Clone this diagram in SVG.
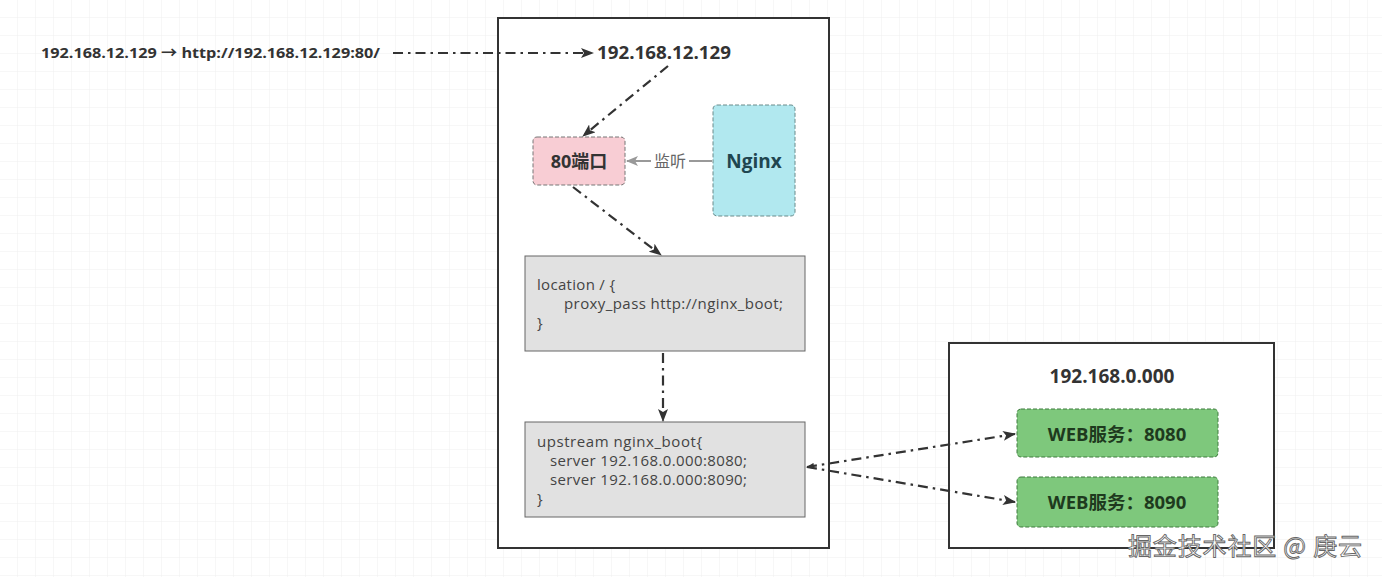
<svg xmlns="http://www.w3.org/2000/svg" width="1382" height="577" viewBox="0 0 1382 577">
<defs>
<pattern id="grid" width="18" height="18" patternUnits="userSpaceOnUse">
<path d="M18 0V18M0 18H18" fill="none" stroke="#efefef" stroke-width="1"/>
</pattern>
<marker id="arr" markerWidth="13" markerHeight="10" refX="12" refY="5" orient="auto" markerUnits="userSpaceOnUse">
<path d="M0,0 L13,5 L0,10 L3,5 Z" fill="#333"/>
</marker>
<marker id="arrg" markerWidth="12" markerHeight="10" refX="11" refY="5" orient="auto" markerUnits="userSpaceOnUse">
<path d="M0,0 L12,5 L0,10 L3,5 Z" fill="#999"/>
</marker>
<marker id="arrs" markerWidth="8" markerHeight="6" refX="1" refY="3" orient="auto" markerUnits="userSpaceOnUse">
<path d="M8,0 L0,3 L8,6 Z" fill="#333"/>
</marker>
</defs>
<style>
.frame{fill:#fff;stroke:#333;stroke-width:2}
.dd{fill:none;stroke:#333;stroke-width:2.2;stroke-dasharray:10 5 2.5 5}
.code{fill:#e1e1e1;stroke:#666;stroke-width:1}
.ct{font-family:"Open Sans","Liberation Sans",sans-serif;font-size:15px;fill:#444}
.b{font-family:"Open Sans","Noto Sans CJK SC",sans-serif;font-weight:bold;fill:#333}
.dash{stroke-dasharray:4 2;stroke-width:1}
</style>
<rect width="1382" height="577" fill="#fff"/>
<rect width="1382" height="577" fill="url(#grid)"/>

<g id="main-box"><rect class="frame" x="498" y="18" width="331" height="530"/></g>
<g id="server-box"><rect class="frame" x="949" y="343" width="325" height="205"/></g>

<g id="client"><text class="b" x="41" y="58" font-size="15" textLength="339" lengthAdjust="spacingAndGlyphs">192.168.12.129 → http://192.168.12.129:80/</text></g>
<g id="host"><text class="b" x="597" y="59" font-size="18" textLength="134" lengthAdjust="spacingAndGlyphs">192.168.12.129</text></g>

<g id="port80"><rect x="533" y="137" width="92" height="48" rx="4" fill="#f8cdd4" stroke="#777" class="dash"/><text class="b" x="579" y="168" font-size="18" text-anchor="middle" fill="#4a2a2e">80端口</text></g>
<g id="nginx"><rect x="713" y="105" width="82" height="111" rx="4" fill="#b1e8ef" stroke="#6a8a8a" class="dash"/><text class="b" x="754" y="168" font-size="19" text-anchor="middle" style="fill:#1f4650">Nginx</text></g>

<g id="location"><rect class="code" x="525" y="256" width="280" height="95"/>
<text class="ct" x="537" y="290" textLength="78">location / {</text>
<text class="ct" x="564" y="309" textLength="219">proxy_pass http://nginx_boot;</text>
<text class="ct" x="537" y="328">}</text></g>

<g id="upstream"><rect class="code" x="525" y="422" width="280" height="95"/>
<text class="ct" x="537" y="447" textLength="165">upstream nginx_boot{</text>
<text class="ct" x="550" y="466" textLength="197">server 192.168.0.000:8080;</text>
<text class="ct" x="550" y="485" textLength="197">server 192.168.0.000:8090;</text>
<text class="ct" x="537" y="504">}</text></g>

<g id="server-ip"><text class="b" x="1112" y="383" font-size="19" text-anchor="middle">192.168.0.000</text></g>
<g id="web8080"><rect x="1017" y="409" width="201" height="48" rx="4" fill="#7ec87c" stroke="#3f7a3f" class="dash"/><text class="b" x="1117" y="441" font-size="18.5" text-anchor="middle" style="fill:#1e3a1e">WEB服务：8080</text></g>
<g id="web8090"><rect x="1017" y="477" width="201" height="50" rx="4" fill="#7ec87c" stroke="#3f7a3f" class="dash"/><text class="b" x="1117" y="509" font-size="18.5" text-anchor="middle" style="fill:#1e3a1e">WEB服务：8090</text></g>

<g id="connectors">
<line class="dd" x1="393" y1="53" x2="593" y2="53" marker-end="url(#arr)"/>
<line class="dd" x1="668" y1="66" x2="583" y2="136" marker-end="url(#arr)"/>
<line x1="712" y1="161" x2="627" y2="161" stroke="#999" stroke-width="2" marker-end="url(#arrg)"/>
<rect x="651" y="150" width="38" height="22" fill="#fff"/>
<text x="670" y="167" font-family="'Noto Sans CJK SC',sans-serif" font-size="16" fill="#666" text-anchor="middle">监听</text>
<line class="dd" x1="573" y1="187" x2="661" y2="255" marker-end="url(#arr)"/>
<line class="dd" x1="663" y1="353" x2="663" y2="421" marker-end="url(#arr)"/>
<line class="dd" x1="807" y1="467" x2="1015" y2="434" marker-start="url(#arrs)" marker-end="url(#arr)"/>
<line class="dd" x1="807" y1="467" x2="1015" y2="502" marker-end="url(#arr)"/>
</g>

<g id="watermark"><text x="1128" y="555" font-family="'Noto Sans CJK SC',sans-serif" font-size="24" fill="#fff" stroke="#666" stroke-width="0.9" textLength="234">掘金技术社区 @ 庚云</text></g>
</svg>
